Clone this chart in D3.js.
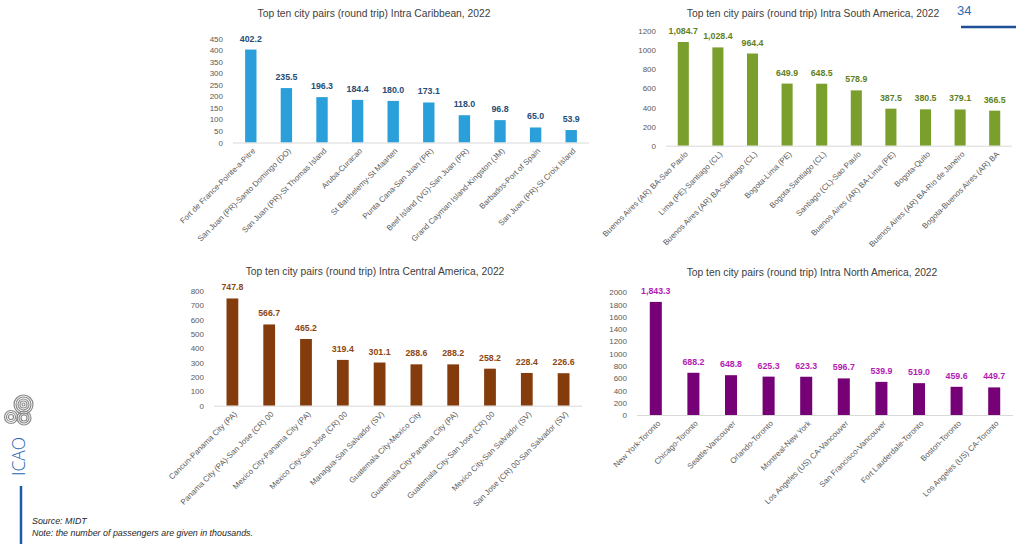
<!DOCTYPE html>
<html><head><meta charset="utf-8">
<script src="https://cdn.jsdelivr.net/npm/d3@7"></script>
<style>
html,body{margin:0;padding:0;background:#fff;}
svg{display:block;font-family:"Liberation Sans",Arial,sans-serif;}
</style></head>
<body>
<svg id="c" width="1016" height="544"></svg>
<script>
// ---------- DATA ----------
const caribCats = ["Fort de France-Pointe-a-Pitre","San Juan (PR)-Santo Domingo (DO)","San Juan (PR)-St Thomas Island","Aruba-Curacao","St Barthelemy-St Maarten","Punta Cana-San Juan (PR)","Beef Island (VG)-San Juan (PR)","Grand Cayman Island-Kingston (JM)","Barbados-Port of Spain","San Juan (PR)-St Croix Island"];
const caribVals = [402.2,235.5,196.3,184.4,180.0,173.1,118.0,96.8,65.0,53.9];
const caribTicks = [0,50,100,150,200,250,300,350,400,450];

const southCats = ["Buenos Aires (AR) BA-Sao Paulo","Lima (PE)-Santiago (CL)","Buenos Aires (AR) BA-Santiago (CL)","Bogota-Lima (PE)","Bogota-Santiago (CL)","Santiago (CL)-Sao Paulo","Buenos Aires (AR) BA-Lima (PE)","Bogota-Quito","Buenos Aires (AR) BA-Rio de Janeiro","Bogota-Buenos Aires (AR) BA"];
const southVals = [1084.7,1028.4,964.4,649.9,648.5,578.9,387.5,380.5,379.1,366.5];
const southTicks = [0,200,400,600,800,1000,1200];

const centralCats = ["Cancun-Panama City (PA)","Panama City (PA)-San Jose (CR) 00","Mexico City-Panama City (PA)","Mexico City-San Jose (CR) 00","Managua-San Salvador (SV)","Guatemala City-Mexico City","Guatemala City-Panama City (PA)","Guatemala City-San Jose (CR) 00","Mexico City-San Salvador (SV)","San Jose (CR) 00-San Salvador (SV)"];
const centralVals = [747.8,566.7,465.2,319.4,301.1,288.6,288.2,258.2,228.4,226.6];
const centralTicks = [0,100,200,300,400,500,600,700,800];

const northCats = ["New York-Toronto","Chicago-Toronto","Seattle-Vancouver","Orlando-Toronto","Montreal-New York","Los Angeles (US) CA-Vancouver","San Francisco-Vancouver","Fort Lauderdale-Toronto","Boston-Toronto","Los Angeles (US) CA-Toronto"];
const northVals = [1843.3,688.2,648.8,625.3,623.3,596.7,539.9,519.0,459.6,449.7];
const northTicks = [0,200,400,600,800,1000,1200,1400,1600,1800,2000];

const titles = ["Top ten city pairs (round trip) Intra Caribbean, 2022","Top ten city pairs (round trip) Intra South America, 2022","Top ten city pairs (round trip) Intra Central America, 2022","Top ten city pairs (round trip) Intra North America, 2022"];
const pageNumber = "34";
const sourceLines = ["Source: MIDT","Note: the number of passengers are given in thousands."];

// ---------- LAYOUT ----------
const svg = d3.select("#c");
const panels = [
  {title:titles[0], cats:caribCats, vals:caribVals, ticks:caribTicks, max:450, x0:233, x1:589, yb:142.5, yt:38.5, tx:374, ty:16.5, bar:"#2a9fd9", lab:"#1f4e79"},
  {title:titles[1], cats:southCats, vals:southVals, ticks:southTicks, max:1200, x0:666, x1:1012, yb:145.7, yt:31, tx:813, ty:16.5, bar:"#7a9f2c", lab:"#5f7f1f"},
  {title:titles[2], cats:centralCats, vals:centralVals, ticks:centralTicks, max:800, x0:214, x1:582, yb:405.7, yt:291, tx:375, ty:274.5, bar:"#843c0c", lab:"#8e4712"},
  {title:titles[3], cats:northCats, vals:northVals, ticks:northTicks, max:2000, x0:637, x1:1013, yb:415, yt:292.3, tx:812, ty:275.5, bar:"#760076", lab:"#b21cb2"}
];
const fmt = d3.format(",.1f");

panels.forEach(p => {
  const g = svg.append("g");
  const x = d3.scaleBand().domain(p.cats).range([p.x0, p.x1]).paddingInner(0.68).paddingOuter(0.34);
  const y = d3.scaleLinear().domain([0, p.max]).range([p.yb, p.yt]);

  g.append("text").attr("x", p.tx).attr("y", p.ty).attr("text-anchor","middle")
    .attr("font-size", 10.3).attr("fill", "#404040").text(p.title);

  const ya = d3.axisLeft(y).tickValues(p.ticks).tickSize(0).tickPadding(10).tickFormat(d3.format("d"));
  const yg = g.append("g").attr("transform", `translate(${p.x0},0)`).call(ya);
  yg.select(".domain").remove();
  yg.selectAll("text").attr("font-size", 8).attr("fill", "#595959").attr("font-family", "Liberation Sans, Arial, sans-serif");

  g.selectAll("rect.bar").data(p.vals).join("rect")
    .attr("x", (d,i) => x(p.cats[i])).attr("width", x.bandwidth())
    .attr("y", d => y(d)).attr("height", d => y(0) - y(d))
    .attr("fill", p.bar);

  g.append("line").attr("x1", p.x0).attr("x2", p.x1).attr("y1", y(0)+0.5).attr("y2", y(0)+0.5)
    .attr("stroke", "#d9d9d9").attr("stroke-width", 1);

  g.selectAll("text.val").data(p.vals).join("text").attr("class","val")
    .attr("x", (d,i) => x(p.cats[i]) + x.bandwidth()/2).attr("y", d => y(d) - 8)
    .attr("text-anchor","middle").attr("font-size", 8.8).attr("font-weight","bold")
    .attr("fill", p.lab).text(d => fmt(d));

  const xa = d3.axisBottom(x).tickSize(0).tickPadding(0);
  const xg = g.append("g").attr("transform", `translate(0,${y(0)})`).call(xa);
  xg.select(".domain").remove();
  xg.selectAll(".tick text")
    .attr("text-anchor","end").attr("font-size", 7.9).attr("fill", "#595959")
    .attr("font-family", "Liberation Sans, Arial, sans-serif")
    .attr("dy", null).attr("y", 0)
    .attr("transform", "translate(5,9) rotate(-45)");
});

// page number + line
svg.append("text").attr("x", 957).attr("y", 15).attr("font-size", 13).attr("fill", "#2e6db4").text(pageNumber);
svg.append("line").attr("x1", 961).attr("x2", 1016).attr("y1", 27).attr("y2", 27).attr("stroke", "#1f4e99").attr("stroke-width", 2.5);

// ICAO logo
const logo = svg.append("g");
[[23.5,404.5,9.5],[11,417,6.5],[24,418,7]].forEach(([cx,cy,r]) => {
  for (let k = r; k > 1; k -= 2) {
    logo.append("circle").attr("cx", cx).attr("cy", cy).attr("r", k).attr("fill","none").attr("stroke","#8a8a8a").attr("stroke-width",1.2);
  }
});
logo.append("text").attr("transform","translate(25,476) rotate(-90)").attr("font-size",17.5).attr("font-family","Open Sans, sans-serif")
  .attr("font-weight",300).attr("fill","#1e64b4").text("ICAO");
svg.append("line").attr("x1",21).attr("x2",21).attr("y1",486).attr("y2",544).attr("stroke","#1a5ea8").attr("stroke-width",2.5);

svg.selectAll("text.src").data(sourceLines).join("text").attr("class","src")
  .attr("x", 32).attr("y", (d,i) => 524 + i*12).attr("font-size", 8.9).attr("font-style","italic").attr("fill","#262626").text(d => d);
</script>
</body></html>
